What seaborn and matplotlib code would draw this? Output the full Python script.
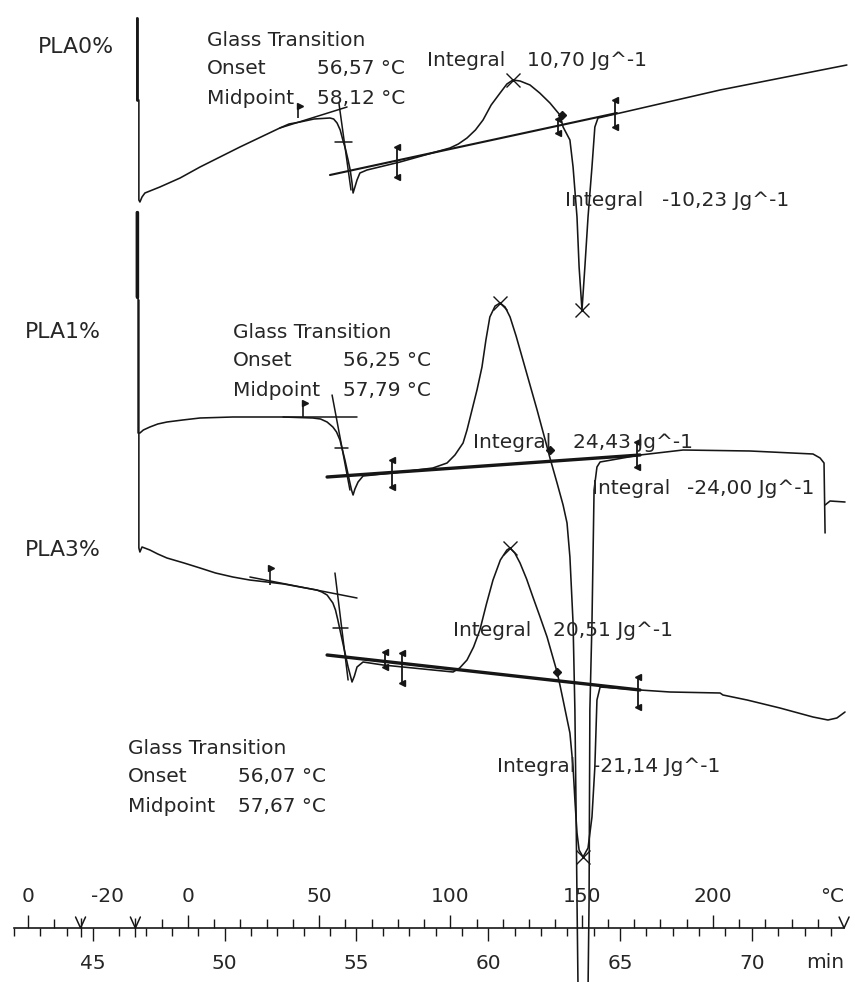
import numpy as np
import matplotlib
matplotlib.use("Agg")
import matplotlib.pyplot as plt
import seaborn as sns
from matplotlib.ticker import FixedLocator, FixedFormatter, NullFormatter

# ------------------------------------------------------------------ data
samples = ["PLA0%", "PLA1%", "PLA3%"]

# DSC traces: x = temperature of the heating segment (°C), y = heat-flow signal (arb. units)
pla0_temp = [-19.4, -19.4, -18.7, -18.7, -18.3, -17.5, -16.4, -14.5, -10.7, -3.0, 4.6, 19.8,
             35.0, 38.5, 42.7, 48.0, 54.1, 55.5, 56.8, 58.0, 59.0, 60.0, 61.0, 61.8, 62.5,
             62.9, 63.6, 64.4, 65.5, 68.2, 80.8, 99.8, 103.0, 106.3, 109.5, 112.4, 115.5,
             118.9, 121.5, 123.8, 126.5, 130.3, 134.0, 137.9, 141.7, 142.9, 145.5, 146.7,
             148.2, 149.0, 150.1, 151.2, 152.4, 153.9, 155.0, 156.2, 164.6, 202.7, 251.0]
pla0_signal = [96.4, 88.2, 88.2, 78.2, 78.0, 78.5, 78.9, 79.1, 79.5, 80.4, 81.5, 83.5,
               85.4, 85.8, 86.0, 86.3, 86.4, 86.3, 85.9, 85.2, 84.2, 83.3, 82.2, 81.2, 79.9,
               78.9, 79.5, 80.2, 80.9, 81.2, 82.0, 83.4, 83.8, 84.4, 85.2, 86.2, 87.7,
               88.9, 89.8, 90.2, 90.1, 89.7, 88.9, 87.9, 86.7, 85.5, 84.2, 81.5,
               76.5, 71.5, 67.2, 71.5, 76.5, 81.5, 85.5, 86.4, 86.9, 89.2, 91.7]

pla1_temp = [-19.6, -19.6, -19.0, -19.0, -18.3, -17.0, -14.5, -11.5, -8.0, -2.0, 4.6, 17.1,
             36.2, 47.6, 50.5, 53.0, 55.2, 56.6, 57.9, 59.8, 60.8, 61.7, 62.3, 62.9, 63.6,
             64.8, 66.7, 78.1, 93.3, 98.7, 101.7, 104.8, 106.3, 108.2, 110.1, 112.0, 113.5,
             115.0, 117.0, 118.9, 120.8, 122.7, 125.0, 127.6, 130.3, 133.0, 136.8, 137.9,
             140.6, 142.9, 144.4, 145.5, 146.7, 147.4, 147.8, 148.2, 148.6, 150.5, 152.4,
             152.8, 153.1, 153.9, 154.3, 154.7, 155.8, 157.0, 172.2, 188.6, 214.1, 238.1,
             240.8, 242.3, 242.7]
pla1_signal = [77.0, 68.5, 68.5, 54.9, 54.9, 55.2, 55.5, 55.8, 56.0, 56.2, 56.4, 56.5,
               56.5, 56.4, 56.3, 56.0, 55.5, 55.0, 54.2, 52.2, 51.0, 49.9, 49.2, 48.7, 49.3,
               50.0, 50.6, 50.9, 51.4, 51.9, 52.7, 53.9, 55.2, 57.2, 59.2, 61.5, 64.2,
               66.5, 67.6, 67.9, 67.5, 66.5, 64.6, 62.2, 59.7, 57.2, 53.5, 52.4,
               49.9, 47.7, 45.9, 42.5, 35.9, 27.2, 18.2, 8.2, -0.8, -2.8, -0.8,
               8.2, 27.2, 35.9, 42.5, 49.2, 51.5, 52.0, 52.7, 53.2, 53.1, 52.8,
               52.4, 51.9, 44.9]
pla1_end_temp = [242.7, 244.6, 250.3]
pla1_end_signal = [47.7, 48.1, 48.0]

pla3_temp = [-18.7, -18.7, -18.3, -17.5, -14.5, -11.5, -8.0, -1.5, 4.6, 10.5, 17.1, 23.5,
             30.1, 36.5, 42.7, 49.1, 51.0, 53.0, 55.2, 56.2, 57.1, 58.0, 59.0, 60.0, 61.0,
             61.8, 62.5, 63.4, 64.4, 66.7, 74.3, 93.3, 101.0, 103.5, 106.3, 108.8, 111.2,
             113.7, 116.2, 119.0, 121.5, 122.7, 124.5, 126.5, 129.0, 131.4, 134.0, 136.8,
             140.6, 141.7, 142.9, 145.5, 146.7, 147.4, 148.2, 149.0, 150.5, 152.4, 153.9,
             155.0, 155.8, 157.0, 172.2, 183.6, 202.7, 203.8, 213.0, 225.5, 238.1, 243.8,
             247.2, 250.3]
pla3_signal = [68.2, 43.4, 43.0, 43.5, 43.2, 42.8, 42.4, 41.9, 41.4, 40.9, 40.5, 40.2,
               40.0, 39.8, 39.5, 39.2, 39.0, 38.7, 37.9, 37.2, 36.2, 35.1, 33.9, 32.7, 31.5,
               30.7, 30.0, 30.6, 31.5, 32.0, 31.7, 31.2, 31.0, 31.4, 32.2, 33.5, 35.2,
               37.8, 40.2, 42.2, 43.2, 43.4, 42.9, 41.9, 40.3, 38.5, 36.6, 34.5,
               31.0, 29.7, 28.2, 24.9, 21.5, 18.2, 14.9, 13.2, 12.5, 13.4, 16.5,
               21.5, 28.2, 29.5, 29.2, 29.0, 28.9, 28.7, 28.2, 27.4, 26.5, 26.2,
               26.4, 27.0]

# evaluation results
tg_onset = ["56,57 °C", "56,25 °C", "56,07 °C"]
tg_midpoint = ["58,12 °C", "57,79 °C", "57,67 °C"]
integral_cryst = ["10,70 Jg^-1", "24,43 Jg^-1", "20,51 Jg^-1"]
integral_melt = ["-10,23 Jg^-1", "-24,00 Jg^-1", "-21,14 Jg^-1"]

# evaluation construction lines
tg_upper_T = [[35.0, 60.6], [36.2, 64.4], [23.6, 64.4]]
tg_upper_S = [[85.4, 87.5], [56.5, 56.5], [40.5, 38.4]]
tg_infl_T = [[57.5, 62.1], [54.9, 61.7], [56.0, 61.0]]
tg_infl_S = [[87.9, 79.2], [58.7, 49.2], [40.9, 30.2]]
tg_mid_T = [[56.0, 62.5], [56.0, 61.0], [55.2, 61.0]]
tg_mid_S = [84.0, 53.4, 35.4]
baseline_T = [[54.1, 163.4], [53.0, 172.2], [53.0, 172.2]]
baseline_S = [[80.7, 86.9], [50.5, 52.7], [32.7, 29.2]]
tg_flag_T = [41.9, 43.8, 31.2]
tg_flag_S = [[86.4, 87.6], [56.5, 57.9], [39.7, 41.4]]
limit_T = [[79.6, 141.0, 162.7], [77.7, 171.0], [75.0, 81.5, 171.4]]
limit_lo = [[80.5, 84.9, 85.5], [49.5, 51.5], [31.5, 29.9, 27.5]]
limit_hi = [[83.5, 86.3, 88.2], [52.2, 54.0], [33.0, 32.9, 30.5]]
diamond_T = [[142.5], [137.9], [140.6]]
diamond_S = [[86.7], [53.2], [31.0]]
peak_T = [[123.8, 150.1], [118.9], [122.7, 150.5]]
peak_S = [[90.2, 67.2], [67.9], [43.4, 12.5]]

# time / temperature program of the bottom scale
time_minor = list(range(42, 74))
time_major = [45, 50, 55, 60, 65, 70]
prog_time = [42.53, 44.53, 46.61, 73.5]     # segment boundaries (min)
prog_temp = [0, -20, -20, 250]              # temperature at boundaries (°C)
heat_minor = [-10] + [t for t in range(10, 250, 10) if t % 50 != 0]
heat_major = [0, 50, 100, 150, 200]
cool_minor = [-10]
cool_major = [0]

# ------------------------------------------------------------------ helpers
RATE = 10.04  # K/min


def pos_of_time(t):
    return -36.2 + (np.asarray(t, dtype=float) - 45.0) * RATE


def pos_of_cooling_temp(T):
    t = prog_time[0] + (prog_temp[0] - np.asarray(T, dtype=float)) / 10.0
    return pos_of_time(t)


# ------------------------------------------------------------------ figure
sns.set_theme(style="white")
plt.rcParams["font.family"] = ["DejaVu Sans"]
INK = "#161616"
TXT = "#262626"
FS = 14.5

fig = plt.figure(figsize=(8.55, 9.82), dpi=100)
fig.patch.set_facecolor("white")
ax = fig.add_axes([0, 0, 1, 1])
ax.set_xlim(-71.6, 254.1)
ax.set_ylim(0, 98.2)
ax.axis("off")

curves = [(pla0_temp, pla0_signal), (pla1_temp, pla1_signal), (pla3_temp, pla3_signal)]
for T, S in curves:
    sns.lineplot(x=T, y=S, sort=False, estimator=None, ax=ax, color=INK, linewidth=1.15)
sns.lineplot(x=pla1_end_temp, y=pla1_end_signal, sort=False, estimator=None, ax=ax,
             color=INK, linewidth=1.15)
# thick start transients
ax.plot(pla0_temp[:2], pla0_signal[:2], color=INK, lw=2.0)
ax.plot(pla1_temp[:2], pla1_signal[:2], color=INK, lw=2.4)

for i in range(3):
    ax.plot(tg_upper_T[i], tg_upper_S[i], color=INK, lw=1.1)
    ax.plot(tg_infl_T[i], tg_infl_S[i], color=INK, lw=1.1)
    ax.plot(tg_mid_T[i], [tg_mid_S[i]] * 2, color=INK, lw=1.1)
    ax.plot(baseline_T[i], baseline_S[i], color=INK, lw=1.5 if i == 0 else 2.4)
    ax.vlines(tg_flag_T[i], tg_flag_S[i][0], tg_flag_S[i][1], color=INK, lw=1.2)
    ax.plot([tg_flag_T[i] + 0.6], [tg_flag_S[i][1]], marker=">", ms=5, color=INK, ls="none")
    for x, lo, hi in zip(limit_T[i], limit_lo[i], limit_hi[i]):
        ax.vlines(x, lo, hi, color=INK, lw=1.3)
        ax.plot([x], [hi], marker="<", ms=4.5, color=INK, ls="none")
        ax.plot([x], [lo], marker="<", ms=4.5, color=INK, ls="none")
    ax.plot(diamond_T[i], diamond_S[i], marker="D", ms=4.5, color=INK, ls="none")
    ax.plot(peak_T[i], peak_S[i], marker="x", ms=10, mew=1.0, color=INK, ls="none")

# ------------------------------------------------------------------ texts
label_pos = [(-57.0, 93.5), (-62.0, 65.0), (-62.0, 43.2)]
tg_pos = [(7.2, 49.1, 94.2), (17.1, 59.0, 65.0), (-22.9, 19.0, 23.4)]
cry_pos = [(91.0, 129.1, 92.1), (108.6, 146.7, 54.0), (101.0, 139.0, 35.2)]
melt_pos = [(143.6, 180.6, 78.2), (153.9, 190.1, 49.4), (117.7, 154.3, 21.5)]
kw = dict(fontsize=FS, color=TXT, va="center", ha="left")
for i, name in enumerate(samples):
    ax.text(*label_pos[i], name, fontsize=15.8, color=TXT, va="center", ha="left")
    x0, x1, y0 = tg_pos[i]
    ax.text(x0, y0, "Glass Transition", **kw)
    ax.text(x0, y0 - 2.9, "Onset", **kw)
    ax.text(x1, y0 - 2.9, tg_onset[i], **kw)
    ax.text(x0, y0 - 5.8, "Midpoint", **kw)
    ax.text(x1, y0 - 5.8, tg_midpoint[i], **kw)
    x0, x1, y0 = cry_pos[i]
    ax.text(x0, y0, "Integral", **kw)
    ax.text(x1, y0, integral_cryst[i], **kw)
    x0, x1, y0 = melt_pos[i]
    ax.text(x0, y0, "Integral", **kw)
    ax.text(x1, y0, integral_melt[i], **kw)

# ------------------------------------------------------------------ bottom scale
axb = fig.add_axes([0, 54 / 982, 1, 0.0004])
axb.set_xlim(ax.get_xlim())
axb.set_facecolor("none")
axb.set_yticks([])
for s in ["top", "left", "right"]:
    axb.spines[s].set_visible(False)
axb.spines["bottom"].set_color(INK)
axb.spines["bottom"].set_linewidth(1.2)
axb.spines["bottom"].set_bounds(float(pos_of_time(42)), float(pos_of_time(prog_time[-1])))
axb.xaxis.set_major_locator(FixedLocator(pos_of_time(time_major)))
axb.xaxis.set_major_formatter(FixedFormatter([str(v) for v in time_major]))
axb.xaxis.set_minor_locator(FixedLocator(pos_of_time(time_minor)))
axb.xaxis.set_minor_formatter(NullFormatter())
axb.tick_params(axis="x", which="major", direction="out", length=9.4, width=1.0,
                color=INK, labelsize=FS, labelcolor=TXT, pad=9)
axb.tick_params(axis="x", which="minor", direction="out", length=5.8, width=1.0, color=INK)

axt = axb.twiny()
axt.set_xlim(ax.get_xlim())
axt.set_facecolor("none")
for s in axt.spines.values():
    s.set_visible(False)
maj_pos = list(pos_of_cooling_temp(cool_major)) + heat_major
maj_lab = [str(v) for v in cool_major] + [str(v) for v in heat_major]
min_pos = list(pos_of_cooling_temp(cool_minor)) + heat_minor
axt.xaxis.set_ticks_position("top")
axt.xaxis.set_major_locator(FixedLocator(maj_pos))
axt.xaxis.set_major_formatter(FixedFormatter(maj_lab))
axt.xaxis.set_minor_locator(FixedLocator(min_pos))
axt.xaxis.set_minor_formatter(NullFormatter())
axt.tick_params(axis="x", which="major", direction="out", length=9.4, width=1.0,
                color=INK, labelsize=FS, labelcolor=TXT, pad=6)
axt.tick_params(axis="x", which="minor", direction="out", length=6.5, width=1.0, color=INK)

# segment markers of the temperature program
y_axis_line = 5.4
for k, t in enumerate(prog_time[1:]):
    p = float(pos_of_time(t))
    ax.plot([p - 1.9, p, p + 1.9], [y_axis_line + 1.1, y_axis_line, y_axis_line + 1.1],
            color=INK, lw=1.1)
    if k < 2:
        ax.vlines(p, y_axis_line - 0.9, y_axis_line + 1.0, color=INK, lw=1.0)
iso_mid = float(pos_of_time(0.5 * (prog_time[1] + prog_time[2])))
ax.text(iso_mid, 8.6, str(prog_temp[1]), fontsize=FS, color=TXT, ha="center", va="center")
ax.text(245.3, 8.6, "°C", fontsize=FS, color=TXT, ha="center", va="center")
ax.text(242.7, 1.9, "min", fontsize=FS, color=TXT, ha="center", va="center")

fig.savefig("out.png", dpi=100, facecolor="white")
